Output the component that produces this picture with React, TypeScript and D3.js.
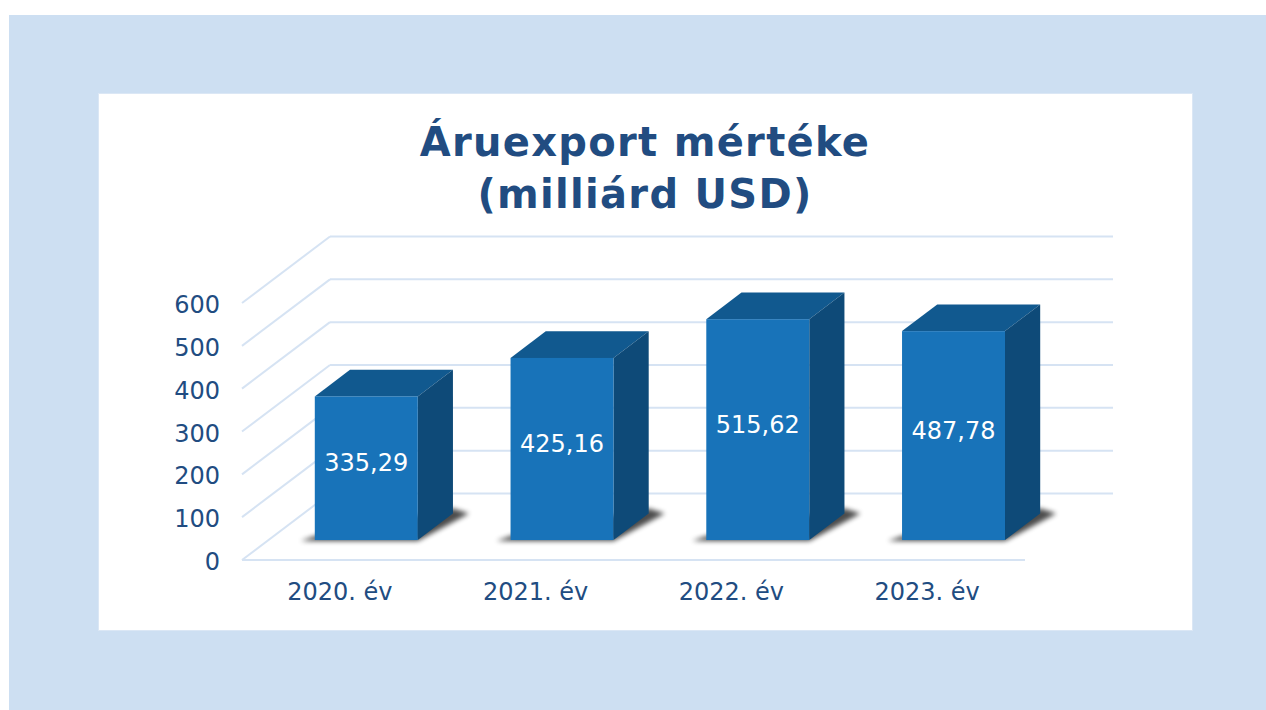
import React from 'react';
import * as d3 from 'd3';

// chart data
const categories = ['2020. év', '2021. év', '2022. év', '2023. év'];
const values = [335.29, 425.16, 515.62, 487.78];
const yTicks = [0, 100, 200, 300, 400, 500, 600];
const titleLines = ['Áruexport mértéke', '(milliárd USD)'];

const huFormat = d3.formatLocale({
  decimal: ',',
  thousands: ' ',
  grouping: [3],
  currency: ['', ' Ft'],
}).format('.2f');

const W = 1266;
const H = 710;
const FONT = '"DejaVu Sans", Verdana, sans-serif';
const TEXT = '#214c81';
const GRID = '#d6e3f3';

// 3D depth of the floor (front edge -> back wall)
const DX = 88;
const DY = -66.5;
const F0 = 0.3; // bar front, fraction of depth
const F1 = 0.7; // bar back

const App: React.FC = () => {
  const x = d3.scaleBand<string>().domain(categories).range([242, 1025]).padding(0);
  const y = d3.scaleLinear().domain([0, 600]).range([560, 303]);

  const band = x.bandwidth();
  const bw = band * 0.526;
  const ddx = (F1 - F0) * DX;
  const ddy = (F1 - F0) * DY;

  const bars = categories.map((c, i) => {
    const x0 = (x(c) || 0) + (band - bw) / 2 + F0 * DX;
    const x1 = x0 + bw;
    const yb = y(0) + F0 * DY;
    const yt = y(values[i]) + F0 * DY;
    return { c, v: values[i], x0, x1, yb, yt };
  });

  const pts = (p: [number, number][]) => p.map(d => d.join(',')).join(' ');

  return (
    <svg
      width={W}
      height={H}
      style={{ position: 'fixed', left: 0, top: 0, background: '#fff' }}
      fontFamily={FONT}
    >
      <defs>
        <filter id="shadowBlur" x="-20%" y="-50%" width="140%" height="200%">
          <feGaussianBlur stdDeviation="2.6" />
        </filter>
      </defs>

      <rect x={9} y={15} width={W - 9} height={H - 15} fill="#cddff2" />
      <rect x={98.5} y={93.5} width={1094} height={537} fill="#fff" stroke="#dbe7f5" strokeWidth={1} />

      {/* title */}
      {titleLines.map((t, i) => (
        <text
          key={t}
          x={645}
          y={156 + i * 52}
          textAnchor="middle"
          fontSize={40}
          fontWeight="bold"
          letterSpacing={1.3}
          fill={TEXT}
        >
          {t}
        </text>
      ))}

      {/* back wall & left wall gridlines */}
      {yTicks.map(t => (
        <g key={t} stroke={GRID} strokeWidth={2} fill="none">
          <line x1={242 + DX} x2={1025 + DX} y1={y(t) + DY} y2={y(t) + DY} />
          <line x1={242} x2={242 + DX} y1={y(t)} y2={y(t) + DY} />
        </g>
      ))}
      <line x1={242} x2={1025} y1={y(0)} y2={y(0)} stroke={GRID} strokeWidth={2} />

      {/* y axis labels */}
      {yTicks.map(t => (
        <text
          key={t}
          x={220}
          y={y(t) + 2}
          textAnchor="end"
          dominantBaseline="central"
          fontSize={24}
          fill={TEXT}
        >
          {t}
        </text>
      ))}

      {/* shadows */}
      {bars.map(b => (
        <polygon
          key={'s' + b.c}
          points={pts([
            [b.x0 - 14, b.yb + 1],
            [b.x1, b.yb + 1],
            [b.x1 + ddx + 16, b.yb + ddy],
            [b.x1 + ddx, b.yb + ddy - 5],
            [b.x0, b.yb - 4],
          ])}
          fill="#000"
          opacity={0.7}
          filter="url(#shadowBlur)"
        />
      ))}

      {/* bars */}
      {bars.map(b => (
        <g key={b.c}>
          <polygon
            points={pts([
              [b.x0, b.yt],
              [b.x1, b.yt],
              [b.x1 + ddx, b.yt + ddy],
              [b.x0 + ddx, b.yt + ddy],
            ])}
            fill="#11598f"
          />
          <polygon
            points={pts([
              [b.x1, b.yt],
              [b.x1 + ddx, b.yt + ddy],
              [b.x1 + ddx, b.yb + ddy],
              [b.x1, b.yb],
            ])}
            fill="#0e4a78"
          />
          <rect x={b.x0} y={b.yt} width={bw} height={b.yb - b.yt} fill="#1873b9" />
          <text
            x={b.x0 + bw / 2}
            y={(b.yt + b.yb) / 2 - 5}
            textAnchor="middle"
            dominantBaseline="central"
            fontSize={24}
            fill="#fff"
          >
            {huFormat(b.v)}
          </text>
        </g>
      ))}

      {/* category labels */}
      {categories.map(c => (
        <text
          key={c}
          x={(x(c) || 0) + band / 2}
          y={600}
          textAnchor="middle"
          fontSize={24}
          fill={TEXT}
        >
          {c}
        </text>
      ))}
    </svg>
  );
};

export default App;
